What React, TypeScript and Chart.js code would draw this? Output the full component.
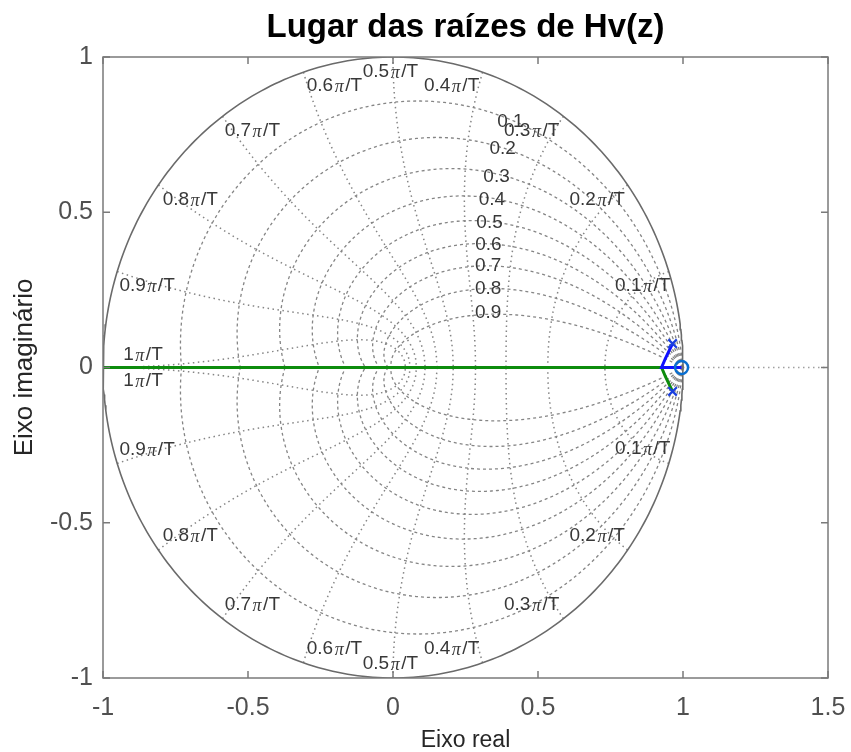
import React, { useEffect, useRef } from 'react';
import { Chart, registerables } from 'chart.js';

Chart.register(...registerables);

// ---- axis ticks ----
const xTicks = [-1, -0.5, 0, 0.5, 1, 1.5];
const xTickLabels = ['-1', '-0.5', '0', '0.5', '1', '1.5'];
const yTicks = [-1, -0.5, 0, 0.5, 1];
const yTickLabels = ['-1', '-0.5', '0', '0.5', '1'];

// ---- z-plane grid (zgrid) ----
const zetaValues = [0.1, 0.2, 0.3, 0.4, 0.5, 0.6, 0.7, 0.8, 0.9];
const zetaLabels = ['0.1', '0.2', '0.3', '0.4', '0.5', '0.6', '0.7', '0.8', '0.9'];
const zetaLabelX = [0.405, 0.378, 0.357, 0.341, 0.333, 0.329, 0.328, 0.328, 0.328];
const zetaLabelY = [0.792, 0.704, 0.615, 0.54, 0.467, 0.395, 0.329, 0.254, 0.177];

const wnValues = [0.1, 0.2, 0.3, 0.4, 0.5, 0.6, 0.7, 0.8, 0.9, 1.0]; // × π/T
const wnLabels = ['0.1π/T', '0.2π/T', '0.3π/T', '0.4π/T', '0.5π/T', '0.6π/T', '0.7π/T', '0.8π/T', '0.9π/T', '1π/T'];
const wnLabelX = [0.861, 0.704, 0.478, 0.202, -0.009, -0.202, -0.485, -0.699, -0.848, -0.862];
const wnLabelY = [0.262, 0.541, 0.764, 0.906, 0.954, 0.906, 0.764, 0.541, 0.264, 0.042];

// ---- root locus of Hv(z) ----
const blueBranchX = [0.964, 0.951, 0.938, 0.926, 0.96, 0.995];
const blueBranchY = [0.077, 0.052, 0.026, 0.0, 0.0, 0.0];
const greenBranchX = [0.964, 0.951, 0.938, 0.926, 0.5, -1.0];
const greenBranchY = [-0.077, -0.052, -0.026, 0.0, 0.0, 0.0];
const poleX = [0.964, 0.964];
const poleY = [0.077, -0.077];
const zeroX = [0.995];
const zeroY = [0.0];

const TITLE = 'Lugar das raízes de Hv(z)';
const X_TITLE = 'Eixo real';
const Y_TITLE = 'Eixo imaginário';

const FONT = '"Liberation Sans", Arial, sans-serif';
const PI_FONT = 'italic 18px "Liberation Serif", serif';
const LABEL_FONT = `19px ${FONT}`;
const GRID_COLOR = '#858585';

function zetaCurve(zeta: number, sign: number) {
  const m = zeta / Math.sqrt(1 - zeta * zeta);
  const pts: { x: number; y: number }[] = [];
  const N = 200;
  for (let i = 0; i <= N; i++) {
    const th = (Math.PI * i) / N;
    const r = Math.exp(-m * th);
    pts.push({ x: r * Math.cos(th), y: sign * r * Math.sin(th) });
  }
  return pts;
}

function wnCurve(wn: number, sign: number) {
  const w = wn * Math.PI;
  const pts: { x: number; y: number }[] = [];
  const N = 100;
  for (let i = 0; i <= N; i++) {
    const z = i / N;
    const r = Math.exp(-w * z);
    const a = w * Math.sqrt(1 - z * z);
    pts.push({ x: r * Math.cos(a), y: sign * r * Math.sin(a) });
  }
  return pts;
}

function unitCircle() {
  const pts: { x: number; y: number }[] = [];
  const N = 360;
  for (let i = 0; i <= N; i++) {
    const th = (2 * Math.PI * i) / N;
    pts.push({ x: Math.cos(th), y: Math.sin(th) });
  }
  return pts;
}

const zip = (xs: number[], ys: number[]) => xs.map((x, i) => ({ x, y: ys[i] }));

const overlayPlugin = {
  id: 'zgridOverlay',
  afterDatasetsDraw(chart: any) {
    const { ctx, chartArea } = chart;
    const xs = chart.scales.x;
    const ys = chart.scales.y;
    const { left, right, top, bottom } = chartArea;
    ctx.save();

    // zeta labels
    ctx.fillStyle = '#383838';
    ctx.textAlign = 'center';
    ctx.textBaseline = 'middle';
    ctx.font = LABEL_FONT;
    zetaLabels.forEach((t, i) => {
      ctx.fillText(t, xs.getPixelForValue(zetaLabelX[i]), ys.getPixelForValue(zetaLabelY[i]));
    });

    // wn labels (upper and lower half)
    const gap = 1.5;
    const drawWn = (text: string, cx: number, cy: number) => {
      const [a, c] = text.split('π');
      ctx.font = LABEL_FONT;
      const wa = ctx.measureText(a).width;
      const wc = ctx.measureText(c).width;
      ctx.font = PI_FONT;
      const wb = ctx.measureText('π').width + 2 * gap;
      const x0 = cx - (wa + wb + wc) / 2;
      ctx.textAlign = 'left';
      ctx.font = LABEL_FONT;
      ctx.fillText(a, x0, cy);
      ctx.font = PI_FONT;
      ctx.fillText('π', x0 + wa + gap, cy + 1.5);
      ctx.font = LABEL_FONT;
      ctx.fillText(c, x0 + wa + wb, cy);
    };
    wnLabels.forEach((t, i) => {
      const px = xs.getPixelForValue(wnLabelX[i]);
      drawWn(t, px, ys.getPixelForValue(wnLabelY[i]));
      drawWn(t, px, ys.getPixelForValue(-wnLabelY[i]));
    });

    // axes box and inward ticks
    ctx.strokeStyle = '#7a7a7a';
    ctx.lineWidth = 1.5;
    ctx.strokeRect(left, top, right - left, bottom - top);
    const tl = 7;
    ctx.beginPath();
    xTicks.forEach((v) => {
      const p = xs.getPixelForValue(v);
      ctx.moveTo(p, bottom);
      ctx.lineTo(p, bottom - tl);
      ctx.moveTo(p, top);
      ctx.lineTo(p, top + tl);
    });
    yTicks.forEach((v) => {
      const p = ys.getPixelForValue(v);
      ctx.moveTo(left, p);
      ctx.lineTo(left + tl, p);
      ctx.moveTo(right, p);
      ctx.lineTo(right - tl, p);
    });
    ctx.stroke();

    // title centred over the axes
    ctx.fillStyle = '#000000';
    ctx.font = `bold 33px ${FONT}`;
    ctx.textAlign = 'center';
    ctx.textBaseline = 'middle';
    ctx.fillText(TITLE, (left + right) / 2, 28);
    ctx.restore();
  },
};

export default function App() {
  const canvasRef = useRef<HTMLCanvasElement | null>(null);

  useEffect(() => {
    if (!canvasRef.current) return;
    const datasets: any[] = [];
    const lineBase = {
      showLine: true,
      pointRadius: 0,
      pointHoverRadius: 0,
      fill: false,
      tension: 0,
    };

    // unit circle
    datasets.push({ ...lineBase, data: unitCircle(), borderColor: '#6a6a6a', borderWidth: 1.6, order: 5 });
    // real-axis dotted line
    datasets.push({
      ...lineBase,
      data: [{ x: -1, y: 0 }, { x: 1.5, y: 0 }],
      borderColor: '#a0a0a0',
      borderWidth: 1.5,
      borderDash: [1.5, 3.5],
      order: 5,
    });
    zetaValues.forEach((z) => {
      [1, -1].forEach((s) => {
        datasets.push({
          ...lineBase,
          data: zetaCurve(z, s),
          borderColor: GRID_COLOR,
          borderWidth: 1.3,
          borderDash: [3, 3],
          order: 5,
        });
      });
    });
    wnValues.forEach((w) => {
      [1, -1].forEach((s) => {
        datasets.push({
          ...lineBase,
          data: wnCurve(w, s),
          borderColor: GRID_COLOR,
          borderWidth: 1.5,
          borderDash: [1.5, 3.5],
          order: 5,
        });
      });
    });

    // locus branches
    datasets.push({
      ...lineBase,
      data: zip(greenBranchX, greenBranchY),
      borderColor: '#0d8c0d',
      borderWidth: 3,
      order: 3,
    });
    datasets.push({
      ...lineBase,
      data: zip(blueBranchX, blueBranchY),
      borderColor: '#1010ff',
      borderWidth: 3,
      order: 2,
    });
    // poles
    datasets.push({
      data: zip(poleX, poleY),
      showLine: false,
      pointStyle: 'crossRot',
      pointRadius: 6,
      pointBorderWidth: 2.2,
      borderColor: '#1a3fe0',
      backgroundColor: '#1a3fe0',
      order: 1,
    });
    // zero
    datasets.push({
      data: zip(zeroX, zeroY),
      showLine: false,
      pointStyle: 'circle',
      pointRadius: 6.5,
      pointBorderWidth: 2.5,
      borderColor: '#0a6fd0',
      backgroundColor: 'rgba(255,255,255,0)',
      order: 1,
    });

    const chart = new Chart(canvasRef.current, {
      type: 'scatter',
      data: { datasets },
      options: {
        animation: false,
        responsive: true,
        maintainAspectRatio: false,
        events: [],
        layout: { padding: { left: 0, right: 23, top: 57, bottom: 0 } },
        plugins: {
          legend: { display: false },
          tooltip: { enabled: false },
          title: { display: false },
        },
        scales: {
          x: {
            type: 'linear',
            min: -1,
            max: 1.5,
            afterBuildTicks: (s: any) => {
              s.ticks = xTicks.map((v) => ({ value: v }));
            },
            afterFit: (s: any) => {
              s.height = 74;
            },
            grid: {
              display: true,
              drawOnChartArea: false,
              drawTicks: true,
              tickLength: 11,
              color: 'rgba(0,0,0,0)',
            },
            border: { display: false },
            ticks: {
              padding: 4,
              color: '#505050',
              font: { family: FONT, size: 25 },
              maxRotation: 0,
              autoSkip: false,
              callback: (v: any) => {
                const i = xTicks.indexOf(Number(v));
                return i >= 0 ? xTickLabels[i] : '';
              },
            },
            title: {
              display: true,
              text: X_TITLE,
              color: '#262626',
              font: { family: FONT, size: 23, lineHeight: 1 },
              padding: { top: 0, bottom: 0 },
            },
          },
          y: {
            type: 'linear',
            min: -1,
            max: 1,
            afterBuildTicks: (s: any) => {
              s.ticks = yTicks.map((v) => ({ value: v }));
            },
            afterFit: (s: any) => {
              s.width = 103;
            },
            grid: {
              display: true,
              drawOnChartArea: false,
              drawTicks: true,
              tickLength: 6,
              color: 'rgba(0,0,0,0)',
            },
            border: { display: false },
            ticks: {
              padding: 4,
              color: '#505050',
              font: { family: FONT, size: 25 },
              autoSkip: false,
              callback: (v: any) => {
                const i = yTicks.indexOf(Number(v));
                return i >= 0 ? yTickLabels[i] : '';
              },
            },
            title: {
              display: true,
              text: Y_TITLE,
              color: '#262626',
              font: { family: FONT, size: 26, lineHeight: 1 },
              padding: { top: 12, bottom: 0 },
            },
          },
        },
      },
      plugins: [overlayPlugin],
    });
    return () => chart.destroy();
  }, []);

  return (
    <div style={{ position: 'fixed', left: 0, top: 0, width: 851, height: 752, background: '#fff' }}>
      <canvas ref={canvasRef} />
    </div>
  );
}
